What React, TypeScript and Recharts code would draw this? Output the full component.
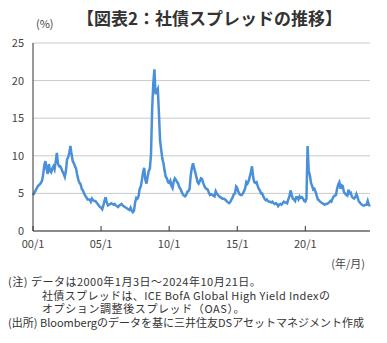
import { LineChart, Line, XAxis, YAxis, CartesianGrid } from "recharts";

// 月次の社債スプレッド（%）、各年1月〜12月
const y2000 = [4.8, 5.0, 5.3, 5.6, 5.9, 6.1, 6.2, 6.4, 6.7, 7.6, 8.8, 9.3];
const y2001 = [8.2, 7.6, 8.9, 8.0, 7.8, 8.3, 8.6, 8.2, 9.2, 10.4, 9.0, 8.6];
const y2002 = [8.6, 8.3, 7.9, 7.6, 7.2, 8.0, 9.5, 9.8, 10.4, 11.3, 10.2, 9.3];
const y2003 = [9.0, 8.6, 8.3, 7.4, 6.8, 6.4, 6.2, 5.6, 5.4, 5.0, 4.7, 4.5];
const y2004 = [4.2, 4.2, 4.2, 3.9, 4.3, 4.1, 4.0, 4.0, 3.8, 3.6, 3.4, 3.2];
const y2005 = [3.1, 2.9, 3.4, 4.0, 4.5, 3.8, 3.4, 3.5, 3.6, 3.7, 3.6, 3.5];
const y2006 = [3.6, 3.4, 3.3, 3.2, 3.4, 3.5, 3.6, 3.4, 3.3, 3.2, 3.1, 3.0];
const y2007 = [2.9, 2.8, 3.1, 2.7, 2.5, 2.7, 3.8, 4.4, 4.3, 4.6, 5.6, 5.9];
const y2008 = [6.8, 7.8, 8.4, 6.8, 6.3, 7.2, 8.0, 8.3, 10.2, 16.2, 19.6, 21.5];
const y2009 = [18.2, 18.6, 18.9, 15.6, 12.0, 10.8, 9.6, 9.0, 8.0, 7.2, 7.0, 6.5];
const y2010 = [6.4, 6.7, 6.0, 5.7, 6.6, 7.0, 6.8, 6.5, 6.3, 5.8, 5.6, 5.2];
const y2011 = [4.9, 4.7, 4.6, 4.8, 5.2, 5.3, 5.6, 7.4, 8.4, 9.0, 8.4, 7.8];
const y2012 = [7.2, 6.5, 6.3, 6.6, 7.0, 6.9, 6.4, 6.0, 5.7, 5.6, 5.5, 5.1];
const y2013 = [4.8, 4.9, 4.8, 4.7, 4.6, 5.3, 5.0, 4.8, 4.6, 4.5, 4.4, 4.3];
const y2014 = [4.3, 4.2, 4.1, 3.9, 3.8, 3.7, 3.9, 4.2, 4.5, 4.9, 5.0, 5.9];
const y2015 = [5.7, 5.2, 4.9, 4.8, 4.8, 5.0, 5.3, 5.7, 6.5, 6.3, 6.6, 7.2];
const y2016 = [7.8, 8.6, 7.2, 6.5, 6.4, 6.5, 6.0, 5.6, 5.4, 5.0, 5.0, 4.6];
const y2017 = [4.3, 4.1, 4.2, 4.0, 3.9, 3.9, 3.8, 3.9, 3.7, 3.6, 3.7, 3.6];
const y2018 = [3.3, 3.5, 3.6, 3.5, 3.7, 3.9, 3.8, 3.8, 3.7, 4.2, 4.6, 5.4];
const y2019 = [4.8, 4.3, 4.2, 4.0, 4.5, 4.5, 4.2, 4.6, 4.4, 4.5, 4.3, 4.0];
const y2020 = [3.9, 4.3, 11.3, 8.0, 7.4, 6.4, 6.0, 5.5, 5.6, 5.2, 4.7, 4.2];
const y2021 = [4.1, 3.9, 3.8, 3.7, 3.6, 3.5, 3.6, 3.6, 3.7, 3.8, 4.0, 3.9];
const y2022 = [4.3, 4.6, 4.7, 4.8, 5.6, 6.2, 6.5, 5.6, 6.1, 6.0, 5.2, 5.0];
const y2023 = [4.8, 4.7, 5.5, 5.0, 5.1, 4.6, 4.4, 4.3, 4.5, 4.9, 4.5, 4.0];
const y2024 = [3.8, 3.6, 3.5, 3.4, 3.4, 3.5, 3.5, 4.0, 3.5, 3.3];

const years = [
  y2000, y2001, y2002, y2003, y2004, y2005, y2006, y2007, y2008, y2009,
  y2010, y2011, y2012, y2013, y2014, y2015, y2016, y2017, y2018, y2019,
  y2020, y2021, y2022, y2023, y2024,
];

const xTicks = ["00/1", "05/1", "10/1", "15/1", "20/1"];
const yTicks = [0, 5, 10, 15, 20, 25];

const data = years.flatMap((vals, i) =>
  vals.map((v, m) => ({
    label: `${String(i).padStart(2, "0")}/${m + 1}`,
    spread: v,
  }))
);

const XTick = (props: any) => {
  const { x, y, payload } = props;
  return (
    <g>
      <line x1={x} x2={x} y1={y} y2={y - 5} stroke="#333" />
      <text x={x} y={y + 17} textAnchor="middle" fontSize={11} fill="#444">
        {payload.value}
      </text>
    </g>
  );
};

const font = "'Noto Sans CJK JP', 'Noto Sans', sans-serif";

const note = { position: "absolute" as const, fontSize: 11, lineHeight: "14px", whiteSpace: "nowrap" as const };

export default function App() {
  return (
    <div style={{ position: "absolute", left: 0, top: 0, width: 387, height: 343, background: "#fff", fontFamily: font, color: "#333" }}>
      <div style={{ position: "absolute", left: 77, top: 5, fontSize: 17, fontWeight: 700, whiteSpace: "nowrap" }}>
        【図表2：社債スプレッドの推移】
      </div>
      <div style={{ position: "absolute", left: 36, top: 15, fontSize: 11, color: "#444" }}>(%)</div>
      <LineChart
        width={387}
        height={343}
        data={data}
        margin={{ top: 43, right: 17, bottom: 92, left: 8 }}
        style={{ fontFamily: font }}
      >
        <CartesianGrid vertical={false} stroke="#c5ccc8" />
        <XAxis
          dataKey="label"
          ticks={xTicks}
          interval={0}
          tickLine={false}
          tickSize={0}
          tickMargin={0}
          height={20}
          tick={<XTick />}
          axisLine={{ stroke: "#333" }}
        />
        <XAxis xAxisId="top" dataKey="label" orientation="top" height={0} tick={false} tickLine={false} axisLine={{ stroke: "#333" }} />
        <YAxis
          domain={[0, 25]}
          ticks={yTicks}
          width={25}
          tickLine={false}
          tickSize={0}
          tickMargin={9}
          tick={{ fontSize: 11, fill: "#444" }}
          axisLine={{ stroke: "#333" }}
        />
        <YAxis yAxisId="right" orientation="right" width={0} domain={[0, 25]} tick={false} tickLine={false} axisLine={{ stroke: "#333" }} />
        <Line
          type="linear"
          dataKey="spread"
          stroke="#4a90d9"
          strokeWidth={2.5}
          dot={false}
          isAnimationActive={false}
        />
      </LineChart>
      <div style={{ position: "absolute", right: 22, top: 255, fontSize: 11, color: "#444" }}>(年/月)</div>
      <div style={{ ...note, left: 8, top: 274, letterSpacing: 0.5 }}>(注) データは2000年1月3日～2024年10月21日。</div>
      <div style={{ ...note, left: 42, top: 287.5, letterSpacing: 0.35 }}>社債スプレッドは、ICE BofA Global High Yield Indexの</div>
      <div style={{ ...note, left: 42, top: 301, letterSpacing: 0.6 }}>オプション調整後スプレッド（OAS）。</div>
      <div style={{ ...note, left: 8, top: 315 }}>(出所) Bloombergのデータを基に三井住友DSアセットマネジメント作成</div>
    </div>
  );
}
